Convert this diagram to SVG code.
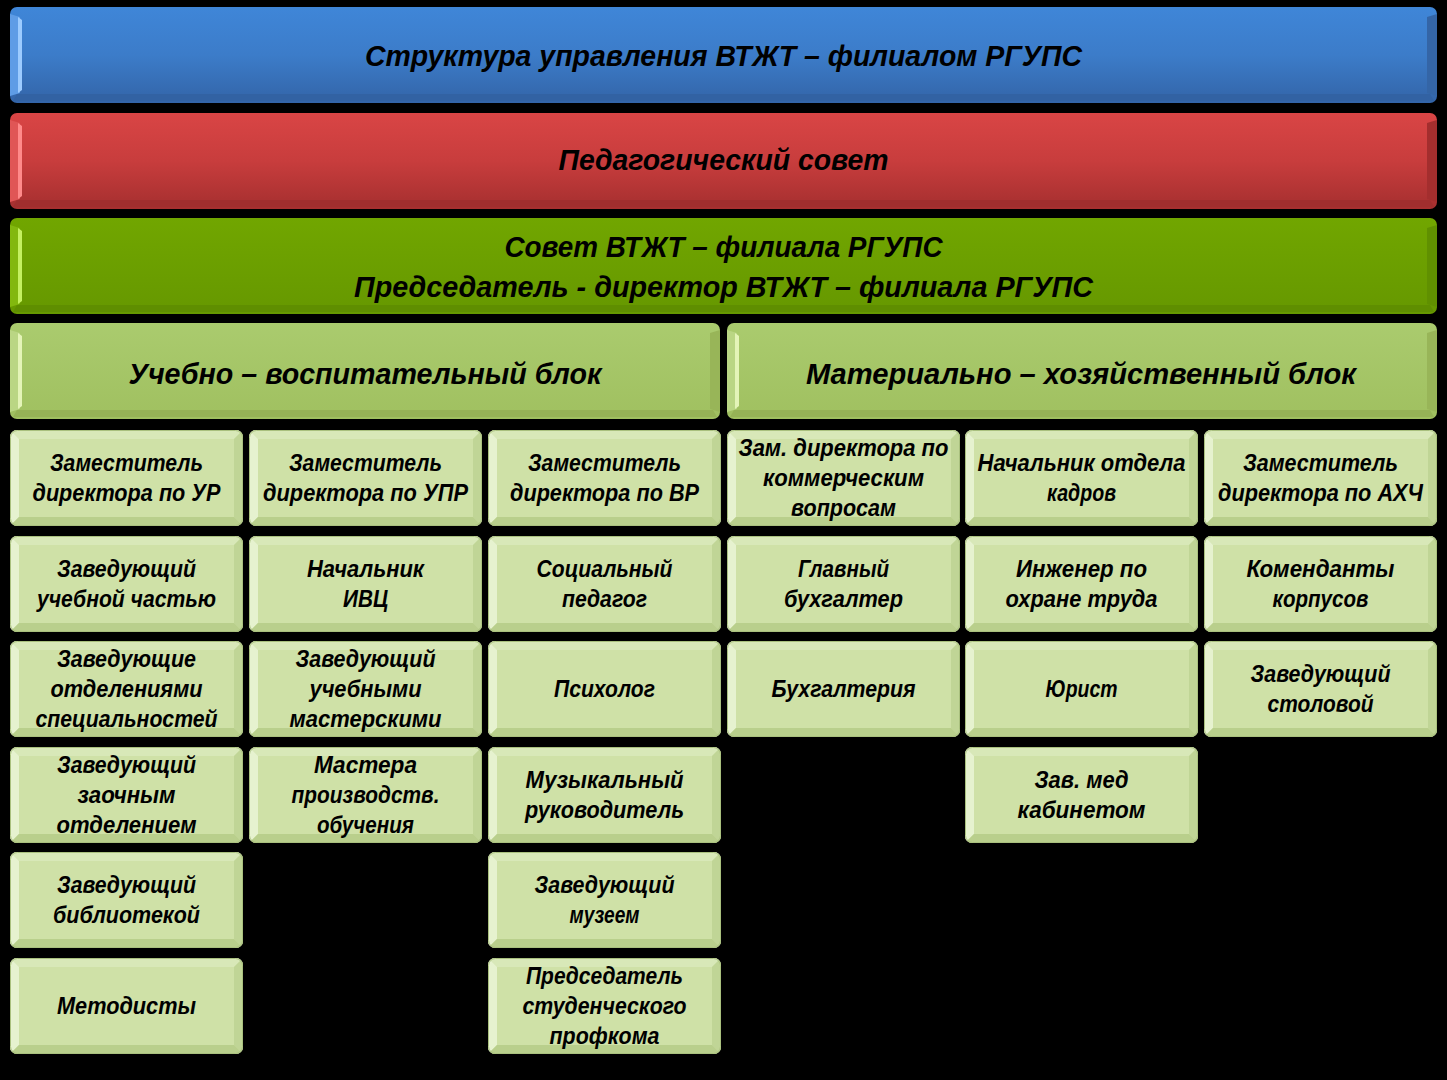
<svg xmlns="http://www.w3.org/2000/svg" xmlns:xlink="http://www.w3.org/1999/xlink" width="1447" height="1080" viewBox="0 0 1447 1080">
<style>
.t{font-family:"Liberation Sans",Arial,sans-serif;font-weight:bold;font-style:italic;fill:#000;text-anchor:middle}
.s{font-size:23px}
.h{font-size:29px}
</style>
<defs>
<linearGradient id="gBlue" x1="0" y1="0" x2="0" y2="1">
<stop offset="0" stop-color="#3f86d8"/><stop offset="0.5" stop-color="#3c7cc9"/><stop offset="1" stop-color="#3364a8"/>
</linearGradient>
<linearGradient id="gRed" x1="0" y1="0" x2="0" y2="1">
<stop offset="0" stop-color="#d94545"/><stop offset="0.5" stop-color="#c83d3d"/><stop offset="1" stop-color="#a52f2f"/>
</linearGradient>
<linearGradient id="gGreen" x1="0" y1="0" x2="0" y2="1">
<stop offset="0" stop-color="#71a600"/><stop offset="1" stop-color="#669800"/>
</linearGradient>
<linearGradient id="gHead" x1="0" y1="0" x2="0" y2="1">
<stop offset="0" stop-color="#aacb6e"/><stop offset="1" stop-color="#a0c060"/>
</linearGradient>
<linearGradient id="gSmall" x1="0" y1="0" x2="0" y2="1">
<stop offset="0" stop-color="#d3e4ad"/><stop offset="1" stop-color="#c8dc9e"/>
</linearGradient>
<clipPath id="cs"><rect x="0" y="0" width="233" height="96" rx="7"/></clipPath>
<symbol id="sb" viewBox="0 0 233 96" width="233" height="96">
<g clip-path="url(#cs)">
<rect x="0" y="0" width="233" height="96" fill="url(#gSmall)"/>
<polygon points="0,0 233,0 224,9 9,9" fill="#d8e8b8"/>
<polygon points="0,0 9,9 9,87 0,96" fill="#e6f2cf"/>
<polygon points="233,0 233,96 224,87 224,9" fill="#c0d596"/>
<polygon points="0,96 233,96 224,87 9,87" fill="#b9cf8c"/>
<rect x="9" y="9" width="215" height="78" fill="#cfe1a7"/>
</g>
<rect x="0.5" y="0.5" width="232" height="95" rx="7" fill="none" stroke="#a9c07e" stroke-width="1"/>
</symbol>
</defs>
<rect x="0" y="0" width="1447" height="1080" fill="#000"/>

<g id="n-title">
<rect x="10" y="7" width="1427" height="96" rx="7" fill="url(#gBlue)"/>
<polygon points="10,14 20,17 20,93 10,96" fill="#5e9ce6"/>
<polygon points="18,17 22,20 22,90 18,93" fill="#9ccbff"/>
<polygon points="1437,14 1427,17 1427,93 1437,96" fill="#3465a6"/>
<polygon points="17,94 1430,94 1434,101 13,101" fill="#3262a3"/>
<text class="t h" x="723.5" y="66" textLength="717" lengthAdjust="spacingAndGlyphs">Структура управления ВТЖТ – филиалом РГУПС</text>
</g>

<g id="n-pedsovet">
<rect x="10" y="113" width="1427" height="96" rx="7" fill="url(#gRed)"/>
<polygon points="10,120 20,123 20,199 10,202" fill="#e05656"/>
<polygon points="18,123 22,126 22,196 18,199" fill="#ff8a8a"/>
<polygon points="1437,120 1427,123 1427,199 1437,202" fill="#a32e2e"/>
<polygon points="17,200 1430,200 1434,207 13,207" fill="#a02e2e"/>
<text class="t h" x="723.5" y="170" textLength="330" lengthAdjust="spacingAndGlyphs">Педагогический совет</text>
</g>

<g id="n-sovet">
<rect x="10" y="218" width="1427" height="96" rx="7" fill="url(#gGreen)"/>
<polygon points="10,225 20,228 20,304 10,307" fill="#82b80e"/>
<polygon points="18,228 22,231 22,301 18,304" fill="#c4f060"/>
<polygon points="1437,225 1427,228 1427,304 1437,307" fill="#609000"/>
<polygon points="17,305 1430,305 1434,312 13,312" fill="#5f8e00"/>
<text class="t h" x="723.5" y="257" textLength="438" lengthAdjust="spacingAndGlyphs">Совет ВТЖТ – филиала РГУПС</text>
<text class="t h" x="723.5" y="297" textLength="739" lengthAdjust="spacingAndGlyphs">Председатель - директор ВТЖТ – филиала РГУПС</text>
</g>

<g id="n-uvb">
<rect x="10" y="323" width="710" height="96" rx="7" fill="url(#gHead)"/>
<polygon points="10,330 20,333 20,409 10,412" fill="#bad684"/>
<polygon points="18,333 22,336 22,406 18,409" fill="#e4f4b8"/>
<polygon points="720,330 710,333 710,409 720,412" fill="#98b558"/>
<polygon points="17,410 713,410 717,417 13,417" fill="#96b356"/>
<text class="t h" x="365" y="384" textLength="473" lengthAdjust="spacingAndGlyphs">Учебно – воспитательный блок</text>
</g>

<g id="n-mhb">
<rect x="727" y="323" width="710" height="96" rx="7" fill="url(#gHead)"/>
<polygon points="727,330 737,333 737,409 727,412" fill="#bad684"/>
<polygon points="735,333 739,336 739,406 735,409" fill="#e4f4b8"/>
<polygon points="1437,330 1427,333 1427,409 1437,412" fill="#98b558"/>
<polygon points="734,410 1430,410 1434,417 730,417" fill="#96b356"/>
<text class="t h" x="1081" y="384" textLength="550" lengthAdjust="spacingAndGlyphs">Материально – хозяйственный блок</text>
</g>

<!-- Column 1 -->
<g id="n-c1r1"><use xlink:href="#sb" x="10" y="430"/>
<text class="t s" x="126.5" y="471" textLength="153" lengthAdjust="spacingAndGlyphs">Заместитель</text>
<text class="t s" x="126.5" y="501" textLength="188" lengthAdjust="spacingAndGlyphs">директора по УР</text></g>
<g id="n-c1r2"><use xlink:href="#sb" x="10" y="536"/>
<text class="t s" x="126.5" y="577" textLength="139" lengthAdjust="spacingAndGlyphs">Заведующий</text>
<text class="t s" x="126.5" y="607" textLength="179" lengthAdjust="spacingAndGlyphs">учебной частью</text></g>
<g id="n-c1r3"><use xlink:href="#sb" x="10" y="641"/>
<text class="t s" x="126.5" y="667" textLength="139" lengthAdjust="spacingAndGlyphs">Заведующие</text>
<text class="t s" x="126.5" y="697" textLength="152" lengthAdjust="spacingAndGlyphs">отделениями</text>
<text class="t s" x="126.5" y="727" textLength="182" lengthAdjust="spacingAndGlyphs">специальностей</text></g>
<g id="n-c1r4"><use xlink:href="#sb" x="10" y="747"/>
<text class="t s" x="126.5" y="773" textLength="139" lengthAdjust="spacingAndGlyphs">Заведующий</text>
<text class="t s" x="126.5" y="803" textLength="98" lengthAdjust="spacingAndGlyphs">заочным</text>
<text class="t s" x="126.5" y="833" textLength="140" lengthAdjust="spacingAndGlyphs">отделением</text></g>
<g id="n-c1r5"><use xlink:href="#sb" x="10" y="852"/>
<text class="t s" x="126.5" y="893" textLength="139" lengthAdjust="spacingAndGlyphs">Заведующий</text>
<text class="t s" x="126.5" y="923" textLength="147" lengthAdjust="spacingAndGlyphs">библиотекой</text></g>
<g id="n-c1r6"><use xlink:href="#sb" x="10" y="958"/>
<text class="t s" x="126.5" y="1014" textLength="139" lengthAdjust="spacingAndGlyphs">Методисты</text></g>

<!-- Column 2 -->
<g id="n-c2r1"><use xlink:href="#sb" x="249" y="430"/>
<text class="t s" x="365.5" y="471" textLength="153" lengthAdjust="spacingAndGlyphs">Заместитель</text>
<text class="t s" x="365.5" y="501" textLength="205" lengthAdjust="spacingAndGlyphs">директора по УПР</text></g>
<g id="n-c2r2"><use xlink:href="#sb" x="249" y="536"/>
<text class="t s" x="365.5" y="577" textLength="117" lengthAdjust="spacingAndGlyphs">Начальник</text>
<text class="t s" x="365.5" y="607" textLength="45" lengthAdjust="spacingAndGlyphs">ИВЦ</text></g>
<g id="n-c2r3"><use xlink:href="#sb" x="249" y="641"/>
<text class="t s" x="365.5" y="667" textLength="140" lengthAdjust="spacingAndGlyphs">Заведующий</text>
<text class="t s" x="365.5" y="697" textLength="112" lengthAdjust="spacingAndGlyphs">учебными</text>
<text class="t s" x="365.5" y="727" textLength="152" lengthAdjust="spacingAndGlyphs">мастерскими</text></g>
<g id="n-c2r4"><use xlink:href="#sb" x="249" y="747"/>
<text class="t s" x="365.5" y="773" textLength="103" lengthAdjust="spacingAndGlyphs">Мастера</text>
<text class="t s" x="365.5" y="803" textLength="148" lengthAdjust="spacingAndGlyphs">производств.</text>
<text class="t s" x="365.5" y="833" textLength="97" lengthAdjust="spacingAndGlyphs">обучения</text></g>

<!-- Column 3 -->
<g id="n-c3r1"><use xlink:href="#sb" x="488" y="430"/>
<text class="t s" x="604.5" y="471" textLength="153" lengthAdjust="spacingAndGlyphs">Заместитель</text>
<text class="t s" x="604.5" y="501" textLength="189" lengthAdjust="spacingAndGlyphs">директора по ВР</text></g>
<g id="n-c3r2"><use xlink:href="#sb" x="488" y="536"/>
<text class="t s" x="604.5" y="577" textLength="136" lengthAdjust="spacingAndGlyphs">Социальный</text>
<text class="t s" x="604.5" y="607" textLength="85" lengthAdjust="spacingAndGlyphs">педагог</text></g>
<g id="n-c3r3"><use xlink:href="#sb" x="488" y="641"/>
<text class="t s" x="604.5" y="697" textLength="101" lengthAdjust="spacingAndGlyphs">Психолог</text></g>
<g id="n-c3r4"><use xlink:href="#sb" x="488" y="747"/>
<text class="t s" x="604.5" y="788" textLength="158" lengthAdjust="spacingAndGlyphs">Музыкальный</text>
<text class="t s" x="604.5" y="818" textLength="159" lengthAdjust="spacingAndGlyphs">руководитель</text></g>
<g id="n-c3r5"><use xlink:href="#sb" x="488" y="852"/>
<text class="t s" x="604.5" y="893" textLength="140" lengthAdjust="spacingAndGlyphs">Заведующий</text>
<text class="t s" x="604.5" y="923" textLength="70" lengthAdjust="spacingAndGlyphs">музеем</text></g>
<g id="n-c3r6"><use xlink:href="#sb" x="488" y="958"/>
<text class="t s" x="604.5" y="984" textLength="157" lengthAdjust="spacingAndGlyphs">Председатель</text>
<text class="t s" x="604.5" y="1014" textLength="164" lengthAdjust="spacingAndGlyphs">студенческого</text>
<text class="t s" x="604.5" y="1044" textLength="110" lengthAdjust="spacingAndGlyphs">профкома</text></g>

<!-- Column 4 -->
<g id="n-c4r1"><use xlink:href="#sb" x="727" y="430"/>
<text class="t s" x="843.5" y="456" textLength="210" lengthAdjust="spacingAndGlyphs">Зам. директора по</text>
<text class="t s" x="843.5" y="486" textLength="161" lengthAdjust="spacingAndGlyphs">коммерческим</text>
<text class="t s" x="843.5" y="516" textLength="105" lengthAdjust="spacingAndGlyphs">вопросам</text></g>
<g id="n-c4r2"><use xlink:href="#sb" x="727" y="536"/>
<text class="t s" x="843.5" y="577" textLength="91" lengthAdjust="spacingAndGlyphs">Главный</text>
<text class="t s" x="843.5" y="607" textLength="119" lengthAdjust="spacingAndGlyphs">бухгалтер</text></g>
<g id="n-c4r3"><use xlink:href="#sb" x="727" y="641"/>
<text class="t s" x="843.5" y="697" textLength="144" lengthAdjust="spacingAndGlyphs">Бухгалтерия</text></g>

<!-- Column 5 -->
<g id="n-c5r1"><use xlink:href="#sb" x="965" y="430"/>
<text class="t s" x="1081.5" y="471" textLength="208" lengthAdjust="spacingAndGlyphs">Начальник отдела</text>
<text class="t s" x="1081.5" y="501" textLength="69" lengthAdjust="spacingAndGlyphs">кадров</text></g>
<g id="n-c5r2"><use xlink:href="#sb" x="965" y="536"/>
<text class="t s" x="1081.5" y="577" textLength="131" lengthAdjust="spacingAndGlyphs">Инженер по</text>
<text class="t s" x="1081.5" y="607" textLength="152" lengthAdjust="spacingAndGlyphs">охране труда</text></g>
<g id="n-c5r3"><use xlink:href="#sb" x="965" y="641"/>
<text class="t s" x="1081.5" y="697" textLength="72" lengthAdjust="spacingAndGlyphs">Юрист</text></g>
<g id="n-c5r4"><use xlink:href="#sb" x="965" y="747"/>
<text class="t s" x="1081.5" y="788" textLength="94" lengthAdjust="spacingAndGlyphs">Зав. мед</text>
<text class="t s" x="1081.5" y="818" textLength="128" lengthAdjust="spacingAndGlyphs">кабинетом</text></g>

<!-- Column 6 -->
<g id="n-c6r1"><use xlink:href="#sb" x="1204" y="430"/>
<text class="t s" x="1320.5" y="471" textLength="155" lengthAdjust="spacingAndGlyphs">Заместитель</text>
<text class="t s" x="1320.5" y="501" textLength="205" lengthAdjust="spacingAndGlyphs">директора по АХЧ</text></g>
<g id="n-c6r2"><use xlink:href="#sb" x="1204" y="536"/>
<text class="t s" x="1320.5" y="577" textLength="148" lengthAdjust="spacingAndGlyphs">Коменданты</text>
<text class="t s" x="1320.5" y="607" textLength="96" lengthAdjust="spacingAndGlyphs">корпусов</text></g>
<g id="n-c6r3"><use xlink:href="#sb" x="1204" y="641"/>
<text class="t s" x="1320.5" y="682" textLength="140" lengthAdjust="spacingAndGlyphs">Заведующий</text>
<text class="t s" x="1320.5" y="712" textLength="106" lengthAdjust="spacingAndGlyphs">столовой</text></g>

<g id="connectors"></g>
</svg>
